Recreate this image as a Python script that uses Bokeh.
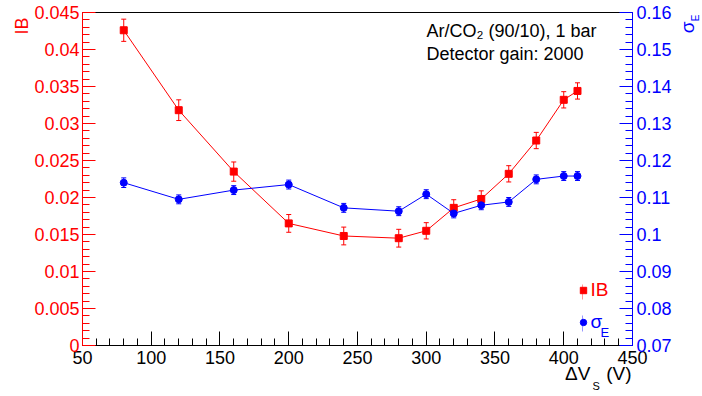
import math
from bokeh.plotting import figure
from bokeh.models import (Range1d, LinearAxis, SingleIntervalTicker, CustomJSTickFormatter,
                          ColumnDataSource, Whisker, TeeHead, Label, Legend, LegendItem)
from bokeh.embed import file_html
from bokeh.resources import INLINE

# ---- data ----
dv = [80, 120, 160, 200, 240, 280, 300, 320, 340, 360, 380, 400, 410]
ib = [0.0426, 0.0318, 0.0235, 0.0165, 0.0148, 0.0145, 0.0155, 0.0186, 0.0198, 0.0232, 0.0277, 0.0332, 0.0344]
ib_err = [0.0015, 0.0014, 0.0013, 0.0012, 0.0012, 0.0012, 0.0011, 0.0011, 0.0011, 0.0011, 0.0011, 0.0011, 0.0011]
sig = [0.1140, 0.1095, 0.1120, 0.1135, 0.1072, 0.1063, 0.1109, 0.1057, 0.1079, 0.1088, 0.1149, 0.1158, 0.1158]
sig_err = [0.0013, 0.0012, 0.0012, 0.0012, 0.0012, 0.0012, 0.0012, 0.0012, 0.0012, 0.0012, 0.0012, 0.0012, 0.0012]

FONT = "Liberation Sans"
RED = "#ff0000"
BLUE = "#0000ff"

src = ColumnDataSource(dict(
    x=dv, ib=ib, ib_lo=[v - e for v, e in zip(ib, ib_err)], ib_hi=[v + e for v, e in zip(ib, ib_err)],
    sig=sig, sig_lo=[v - e for v, e in zip(sig, sig_err)], sig_hi=[v + e for v, e in zip(sig, sig_err)],
))

p = figure(width=702, height=396, x_range=Range1d(50, 450.0001), y_range=Range1d(0, 0.0450001),
           output_backend="svg", toolbar_location=None,
           min_border_left=82, min_border_right=70, min_border_top=12, min_border_bottom=51)
p.extra_y_ranges = {"sig": Range1d(0.07, 0.1600001)}
p.xgrid.visible = False
p.ygrid.visible = False
p.outline_line_color = "black"
p.background_fill_color = "white"
p.border_fill_color = "white"

fmt = "return String(parseFloat(tick.toFixed(6)));"

def style(ax, color, tin=13, mtin=7):
    ax.major_tick_in = tin
    ax.major_tick_out = 0
    ax.minor_tick_in = mtin
    ax.minor_tick_out = 0
    ax.axis_line_color = color
    ax.major_tick_line_color = color
    ax.minor_tick_line_color = color
    ax.major_label_text_color = color
    ax.major_label_text_font = FONT
    ax.major_label_text_font_size = "18px"
    ax.major_label_standoff = 5
    ax.formatter = CustomJSTickFormatter(code=fmt)

xa = p.xaxis[0]
xa.ticker = SingleIntervalTicker(interval=50, num_minor_ticks=5)
style(xa, "black", 14, 7)

ya = p.yaxis[0]
ya.ticker = SingleIntervalTicker(interval=0.005, num_minor_ticks=5)
style(ya, RED)
ya.major_label_standoff = 3

ra = LinearAxis(y_range_name="sig", ticker=SingleIntervalTicker(interval=0.01, num_minor_ticks=5))
style(ra, BLUE)
ra.major_label_standoff = 4
p.add_layout(ra, "right")

# ---- series ----
p.line("x", "ib", source=src, line_color=RED, line_width=1)
p.add_layout(Whisker(base="x", lower="ib_lo", upper="ib_hi", source=src, line_color=RED,
                     upper_head=TeeHead(size=5, line_color=RED), lower_head=TeeHead(size=5, line_color=RED)))
r_ib = p.scatter("x", "ib", source=src, marker="square", size=7, fill_color=RED, line_color=RED)

p.line("x", "sig", source=src, y_range_name="sig", line_color=BLUE, line_width=1)
p.add_layout(Whisker(base="x", lower="sig_lo", upper="sig_hi", source=src, y_range_name="sig", line_color=BLUE,
                     upper_head=TeeHead(size=5, line_color=BLUE), lower_head=TeeHead(size=5, line_color=BLUE)))
r_sig = p.scatter("x", "sig", source=src, y_range_name="sig", marker="circle", size=7,
                  fill_color=BLUE, line_color=BLUE)

# hidden renderers used only as legend error-bar samples (a thin bar in the legend)
vb_red = p.vbar(x="x", top="ib", width=1, source=src, fill_color=RED, line_color=None, visible=False)
vb_blue = p.vbar(x="x", top="sig", width=1, source=src, y_range_name="sig", fill_color=BLUE,
                 line_color=None, visible=False)

def legend(items, loc, gw, gh, color, size="19px", standoff=0):
    lg = Legend(items=items, location=loc, orientation="vertical",
                glyph_width=gw, glyph_height=gh, label_height=gh, label_standoff=standoff,
                padding=0, margin=0, spacing=0, border_line_color=None,
                background_fill_alpha=0, label_text_font=FONT, label_text_font_size=size,
                label_text_color=color, label_text_baseline="middle")
    p.add_layout(lg)
    return lg

legend([LegendItem(label=" ", renderers=[vb_red])], (500, 44.5), 1, 19, RED)
legend([LegendItem(label=" ", renderers=[vb_blue])], (500, 11.7), 1, 20, BLUE)
legend([LegendItem(label="IB", renderers=[r_ib])], (492.5, 44), 16, 20, RED)
legend([LegendItem(label="σ", renderers=[r_sig])], (492.5, 11.7), 16, 20, BLUE)
p.add_layout(Label(x=450, y=0, x_offset=-32, y_offset=13, text="E", text_font=FONT,
                   text_font_size="13px", text_color=BLUE, text_baseline="alphabetic"))

# ---- annotation text ----
p.add_layout(Label(x=450, y=0.045, x_offset=-206, y_offset=-18, text="Ar/CO₂ (90/10), 1 bar",
                   text_font=FONT, text_font_size="18px", text_color="black", text_baseline="alphabetic"))
p.add_layout(Label(x=450, y=0.045, x_offset=-206, y_offset=-41, text="Detector gain: 2000",
                   text_font=FONT, text_font_size="18px", text_color="black", text_baseline="alphabetic"))

# ---- axis titles (in side panels so the frame does not clip them) ----
p.add_layout(Label(x=50, y=0.045, x_offset=-61, y_offset=-5, text="IB", angle=math.pi / 2,
                   text_align="right", text_baseline="middle", text_font=FONT,
                   text_font_size="18px", text_color=RED), "left")
p.add_layout(Label(x=450, y=0.045, x_offset=63, y_offset=-2, text="E", angle=math.pi / 2,
                   text_align="right", text_baseline="middle", text_font=FONT,
                   text_font_size="10px", text_color=BLUE), "left")
p.add_layout(Label(x=450, y=0.045, x_offset=55, y_offset=-9, text="σ", angle=math.pi / 2,
                   text_align="right", text_baseline="middle", text_font=FONT,
                   text_font_size="19px", text_color=BLUE), "right")

p.add_layout(Label(x=450, y=0, x_offset=-1, y_offset=-28, text="ΔV\u00a0\u00a0\u00a0(V)", text_font=FONT,
                   text_font_size="19px", text_color="black", text_align="right",
                   text_baseline="alphabetic"), "below")
p.add_layout(Label(x=450, y=0, x_offset=-40, y_offset=-40, text="S", text_font=FONT,
                   text_font_size="11px", text_color="black", text_baseline="alphabetic"), "above")

open("out.html", "w").write(file_html(p, INLINE))
